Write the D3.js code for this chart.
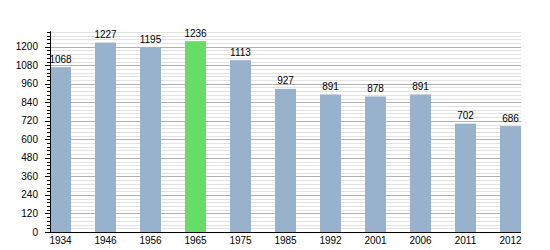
<!DOCTYPE html>
<html lang='en'>
<head>
	<meta charset='UTF-8'>
	<title>Population</title>
	<style>
		body { margin: 0; background: #fff; }
		text { font-family: 'Liberation Sans', Arial, sans-serif; font-size: 10px; fill: #000; }
	</style>
</head>
<body>

<svg></svg>

<script src='https://d3js.org/d3.v7.min.js'></script>
<script>
const years = ['1934', '1946', '1956', '1965', '1975', '1985', '1992', '2001', '2006', '2011', '2012']
const population = [1068, 1227, 1195, 1236, 1113, 927, 891, 878, 891, 702, 686]
const highlight = '1965'
const yTicks = [0, 120, 240, 360, 480, 600, 720, 840, 960, 1080, 1200]

const width = 550
const height = 250

const svg = d3.select('svg')
	.attr('width', width)
	.attr('height', height)

const x = d3.scaleBand()
	.domain(years)
	.range([50, 521])
	.paddingInner(24 / 45)
	.paddingOuter(0)
	.align(0)

const y = d3.scaleLinear()
	.domain([0, 1300])
	.range([232, 31.3])

// grid: minor every 24, major every 120
const minor = d3.range(24, 1300, 24).filter(v => v % 120 !== 0)
svg.append('g').selectAll('line')
	.data(minor)
	.enter().append('line')
	.attr('x1', 50).attr('x2', 521)
	.attr('y1', d => Math.round(y(d)) + 0.5).attr('y2', d => Math.round(y(d)) + 0.5)
	.attr('stroke', '#e2e2e2')

svg.append('g').selectAll('line')
	.data(yTicks.filter(v => v > 0))
	.enter().append('line')
	.attr('x1', 50).attr('x2', 521)
	.attr('y1', d => Math.round(y(d)) + 0.5).attr('y2', d => Math.round(y(d)) + 0.5)
	.attr('stroke', '#b0b0b0')

// bars
svg.append('g').selectAll('rect')
	.data(years)
	.enter().append('rect')
	.attr('x', d => x(d))
	.attr('width', x.bandwidth())
	.attr('y', (d, i) => y(population[i]))
	.attr('height', (d, i) => y(0) - y(population[i]))
	.attr('fill', d => d === highlight ? '#66dd66' : '#98b2cd')

// value labels
svg.append('g').selectAll('text')
	.data(years)
	.enter().append('text')
	.attr('x', d => x(d) + x.bandwidth() / 2)
	.attr('y', (d, i) => y(population[i]) - 4.5)
	.attr('text-anchor', 'middle')
	.text((d, i) => population[i])

// y axis with minor ticks
const yAxis = svg.append('g')
yAxis.selectAll('line.minor')
	.data(minor.concat([1224, 1248, 1272, 1296].filter(v => minor.indexOf(v) < 0)))
	.enter().append('line')
	.attr('x1', 47).attr('x2', 50)
	.attr('y1', d => Math.round(y(d)) + 0.5).attr('y2', d => Math.round(y(d)) + 0.5)
	.attr('stroke', '#000')
yAxis.selectAll('line.major')
	.data(yTicks)
	.enter().append('line')
	.attr('x1', 45).attr('x2', 50)
	.attr('y1', d => Math.round(y(d)) + 0.5).attr('y2', d => Math.round(y(d)) + 0.5)
	.attr('stroke', '#000')
yAxis.selectAll('text')
	.data(yTicks)
	.enter().append('text')
	.attr('x', 38)
	.attr('y', d => y(d) + 3.5)
	.attr('text-anchor', 'end')
	.text(d => d)
yAxis.append('line')
	.attr('x1', 50.5).attr('x2', 50.5)
	.attr('y1', y(1300)).attr('y2', y(0))
	.attr('stroke', '#000')

// x axis
svg.append('line')
	.attr('x1', 50).attr('x2', 521)
	.attr('y1', 232.5).attr('y2', 232.5)
	.attr('stroke', '#000')
svg.append('g').selectAll('text')
	.data(years)
	.enter().append('text')
	.attr('x', d => x(d) + x.bandwidth() / 2)
	.attr('y', 244)
	.attr('text-anchor', 'middle')
	.text(d => d)
</script>
</body>
</html>
